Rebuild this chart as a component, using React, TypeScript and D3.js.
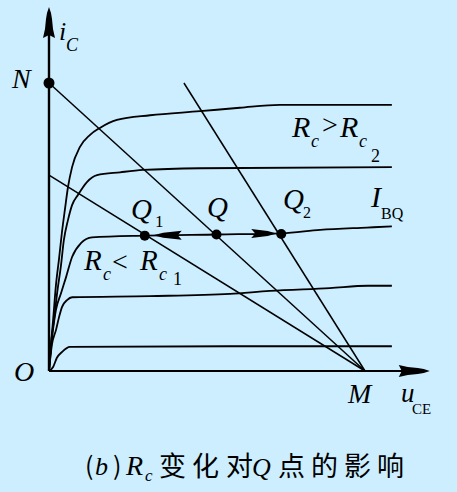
import React from "react";
import * as d3 from "d3";

// Output characteristic curves (u_CE, i_C)
const curveTop = [[0,0],[0.06,0.45],[0.13,0.89],[0.22,1.49],[0.32,1.96],[0.41,2.41],[0.51,2.83],[0.6,3.19],[0.73,3.54],[0.98,3.89],[1.3,4.1],[1.61,4.22],[2.15,4.36],[3.2,4.44],[4.78,4.51],[6.04,4.57],[7.31,4.62],[10.85,4.62]];
const curveSecond = [[0,0],[0.06,0.45],[0.16,0.89],[0.25,1.32],[0.38,1.84],[0.47,2.27],[0.6,2.62],[0.73,2.88],[0.92,3.06],[1.2,3.28],[1.52,3.4],[2.25,3.45],[2.97,3.49],[4.78,3.52],[10.85,3.54]];
const curveIBQ = [[0,0],[0.09,0.54],[0.22,1.06],[0.38,1.35],[0.54,1.63],[0.73,1.98],[1.01,2.22],[1.36,2.32],[3.04,2.35],[5.35,2.37],[7.37,2.39],[8.58,2.45],[10.06,2.49],[10.85,2.51]];
const curveFourth = [[0,0],[0.09,0.45],[0.22,0.71],[0.32,0.94],[0.41,1.11],[0.57,1.23],[0.73,1.28],[3.2,1.3],[5.73,1.34],[6.99,1.39],[8.89,1.44],[10.09,1.48],[10.85,1.48]];
const curveFifth = [[0,0],[0.13,0.07],[0.25,0.23],[0.41,0.33],[0.66,0.42],[5.73,0.43],[10.85,0.43]];
const outputCurves = [curveTop, curveSecond, curveIBQ, curveFourth, curveFifth];

// Load lines: start point -> M
const pointM = [10, 0];
const pointN = [0, 5.0];
const loadLineStarts = [[0, 5.0], [0, 3.4], [4.27, 5.0]];

// Q points
const qPoints = [[3.03, 2.35], [5.3, 2.37], [7.35, 2.38]];
// direction arrows on I_BQ: [from, to]
const qArrows = [[[4.2, 2.36], [3.3, 2.355]], [[6.4, 2.38], [7.2, 2.385]]];

const xAxisMax = 12.05;
const yAxisMax = 6.32;

const serif = "'Liberation Serif', 'DejaVu Serif', serif";
const cjk = "'Noto Sans CJK SC', 'Noto Sans', sans-serif";

export default function App() {
  const x = d3.scaleLinear().domain([0, 10]).range([49, 365]);
  const y = d3.scaleLinear().domain([0, 5]).range([371, 83]);
  const line = d3
    .line<number[]>()
    .x((d) => x(d[0]))
    .y((d) => y(d[1]))
    .curve(d3.curveMonotoneX);
  const straight = d3
    .line<number[]>()
    .x((d) => x(d[0]))
    .y((d) => y(d[1]));

  const yTipX = x(0), yTipY = y(yAxisMax);
  const yArrow = [[0,0],[2,6],[3,12],[4,22],[6,31],[0,28],[-6,31],[-4,22],[-3,12],[-2,6]]
    .map(([dx, dy]) => `${yTipX + dx},${yTipY + dy}`).join(" ");
  const xTipX = x(xAxisMax), xTipY = y(0);
  const xArrow = [[0,0],[2,6],[3,12],[4,22],[6,31],[0,28],[-6,31],[-4,22],[-3,12],[-2,6]]
    .map(([dx, dy]) => `${xTipX - dy},${xTipY + dx}`).join(" ");

  const arrowShape = (from: number[], to: number[]) => {
    const fx = x(from[0]), fy = y(from[1]);
    const tx = x(to[0]), ty = y(to[1]);
    const dir = Math.sign(tx - fx);
    const len = Math.abs(tx - fx);
    const pts = [[0,0],[len*0.35,-2.5],[len,-4.5],[len-4,0],[len,4.5],[len*0.35,2.5]];
    return pts.map(([a, b]) => `${tx - dir * a},${ty + b}`).join(" ");
  };

  return (
    <svg width={457} height={492} style={{ position: "absolute", left: 0, top: 0, background: "#CCEEFF" }}>
      <rect x={0} y={0} width={457} height={492} fill="#CCEEFF" />
      {/* axes */}
      <line x1={x(0)} y1={y(0)} x2={x(0)} y2={y(yAxisMax) + 20} stroke="#000" strokeWidth={2.4} />
      <line x1={x(0)} y1={y(0)} x2={x(xAxisMax) - 20} y2={y(0)} stroke="#000" strokeWidth={2.2} />
      <polygon points={yArrow} fill="#000" />
      <polygon points={xArrow} fill="#000" />

      {/* output characteristic curves */}
      {outputCurves.map((c, i) => (
        <path key={i} d={line(c) || ""} fill="none" stroke="#000" strokeWidth={1.8} />
      ))}

      {/* load lines */}
      {loadLineStarts.map((s, i) => (
        <path key={i} d={straight([s, pointM]) || ""} fill="none" stroke="#000" strokeWidth={1.5} />
      ))}

      {/* arrows on I_BQ */}
      {qArrows.map((a, i) => (
        <polygon key={i} points={arrowShape(a[0], a[1])} fill="#000" />
      ))}

      {/* points */}
      <circle cx={x(pointN[0])} cy={y(pointN[1])} r={5.5} fill="#000" />
      {qPoints.map((q, i) => (
        <circle key={i} cx={x(q[0])} cy={y(q[1])} r={5} fill="#000" />
      ))}

      {/* labels */}
      <g fontFamily={serif} fontStyle="italic" fill="#000">
        <text x={59} y={40} fontSize={26}>i</text>
        <text x={66} y={51} fontSize={18}>C</text>
        <text x={12} y={88} fontSize={28}>N</text>
        <text x={14} y={381} fontSize={28}>O</text>
        <text x={348} y={403} fontSize={28}>M</text>
        <text x={401} y={402} fontSize={27}>u</text>

        <text x={292} y={137} fontSize={30}>R</text>
        <text x={311} y={147} fontSize={18}>c</text>
        <text x={340} y={137} fontSize={30}>R</text>
        <text x={359} y={147} fontSize={18}>c</text>

        <text x={371} y={207} fontSize={30}>I</text>

        <text x={131} y={219} fontSize={29}>Q</text>
        <text x={207} y={217} fontSize={29}>Q</text>
        <text x={283} y={209} fontSize={29}>Q</text>

        <text x={84} y={270} fontSize={29}>R</text>
        <text x={103} y={280} fontSize={18}>c</text>
        <text x={140} y={270} fontSize={29}>R</text>
        <text x={159} y={280} fontSize={18}>c</text>

        <text x={95} y={475} fontSize={26}>b</text>
        <text x={126} y={475} fontSize={28}>R</text>
        <text x={145} y={481} fontSize={17}>c</text>
        <text x={252} y={476} fontSize={26}>Q</text>
      </g>
      <g fontFamily={serif} fill="#000">
        <text x={412} y={414} fontSize={15}>CE</text>
        <text x={322} y={134} fontSize={28}>&gt;</text>
        <text x={371} y={162} fontSize={18}>2</text>
        <text x={381} y={219} fontSize={16}>BQ</text>
        <text x={155} y={227} fontSize={17}>1</text>
        <text x={303} y={218} fontSize={16}>2</text>
        <text x={112} y={271} fontSize={28}>&lt;</text>
        <text x={173} y={285} fontSize={18}>1</text>
      </g>
      <g fontFamily={cjk} fill="#000" fontSize={27}>
        <text x={85} y={475} fontSize={25}>(</text>
        <text x={113} y={475} fontSize={25}>)</text>
        <text x={159} y={476}>变</text>
        <text x={192} y={476}>化</text>
        <text x={226} y={476}>对</text>
        <text x={278} y={476}>点</text>
        <text x={311} y={476}>的</text>
        <text x={344} y={476}>影</text>
        <text x={377} y={476}>响</text>
      </g>
    </svg>
  );
}
